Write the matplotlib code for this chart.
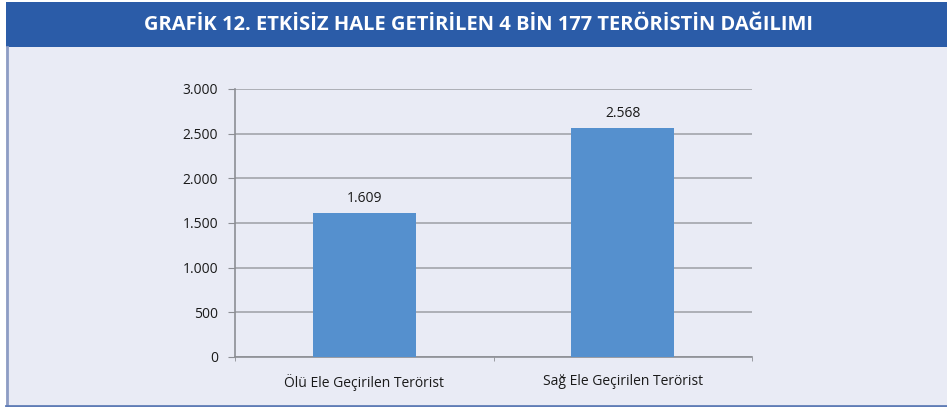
import matplotlib.pyplot as plt
from matplotlib.patches import Rectangle
from matplotlib.lines import Line2D
from matplotlib.ticker import FuncFormatter, MultipleLocator

categories = ["Ölü Ele Geçirilen Terörist", "Sağ Ele Geçirilen Terörist"]
values = [1609, 2568]
value_labels = ["1.609", "2.568"]
title = "GRAFİK 12. ETKİSİZ HALE GETİRİLEN 4 BİN 177 TERÖRİSTİN DAĞILIMI"

bg = "#e9ebf5"
W, H = 947, 407

fig = plt.figure(figsize=(W / 100, H / 100), dpi=100, facecolor="white")

# background panel + title bar (behind the axes)
fig.patches.append(Rectangle((6 / W, 0), 1, 1 - 47 / H, transform=fig.transFigure,
                             facecolor=bg, edgecolor="none", zorder=-5))
fig.patches.append(Rectangle((6 / W, 1 - 47 / H), 1, 45 / H, transform=fig.transFigure,
                             facecolor="#2b5ca8", edgecolor="none", zorder=-5))
fig.lines.append(Line2D([7 / W, 7 / W], [1.5 / H, 1 - 47 / H], transform=fig.transFigure,
                        color="#8e9dc4", lw=2, zorder=-4))
fig.lines.append(Line2D([6 / W, 1], [1.5 / H, 1.5 / H], transform=fig.transFigure,
                        color="#5f7cb6", lw=2, zorder=-4))
fig.text(478 / W, 1 - 25 / H, title, color="white", fontsize=14.5, fontweight="bold",
         family="Open Sans", ha="center", va="center")

ax = fig.add_axes([235 / W, 1 - 357 / H, 517 / W, 268 / H])
ax.set_facecolor("none")

x = [0, 1]
ax.bar(x, values, width=0.4, color="#5590ce", zorder=3)
for xi, v, lab in zip(x, values, value_labels):
    ax.annotate(lab, (xi, v), xytext=(0, 5), textcoords="offset points",
                ha="center", va="bottom", fontsize=10, family="Open Sans", color="#1a1a1a")

ax.set_xlim(-0.5, 1.5)
ax.set_ylim(0, 3000)
ax.yaxis.set_major_locator(MultipleLocator(500))
ax.yaxis.set_major_formatter(FuncFormatter(lambda v, p: f"{int(v):,}".replace(",", ".")))
ax.grid(axis="y", color="#a3a5ab", lw=1.2, zorder=0)

ax.set_xticks(x)
ax.set_xticklabels(categories, family="Open Sans", fontsize=10, color="#1a1a1a")
ax.set_xticks([-0.5, 0.5, 1.5], minor=True)
ax.tick_params(axis="x", which="major", length=0, pad=12)
ax.tick_params(axis="x", which="minor", length=3, color="#8c8e94", direction="out")
ax.tick_params(axis="y", length=5, color="#8c8e94", pad=7, labelsize=10, labelcolor="#1a1a1a")
for lab in ax.get_yticklabels():
    lab.set_family("Open Sans")

for s in ["top", "right"]:
    ax.spines[s].set_visible(False)
ax.spines["left"].set_color("#8c8e94")
ax.spines["bottom"].set_color("#8c8e94")
ax.spines["left"].set_linewidth(1.2)
ax.spines["bottom"].set_linewidth(1.2)

fig.savefig("out.png", dpi=100, facecolor="white")
